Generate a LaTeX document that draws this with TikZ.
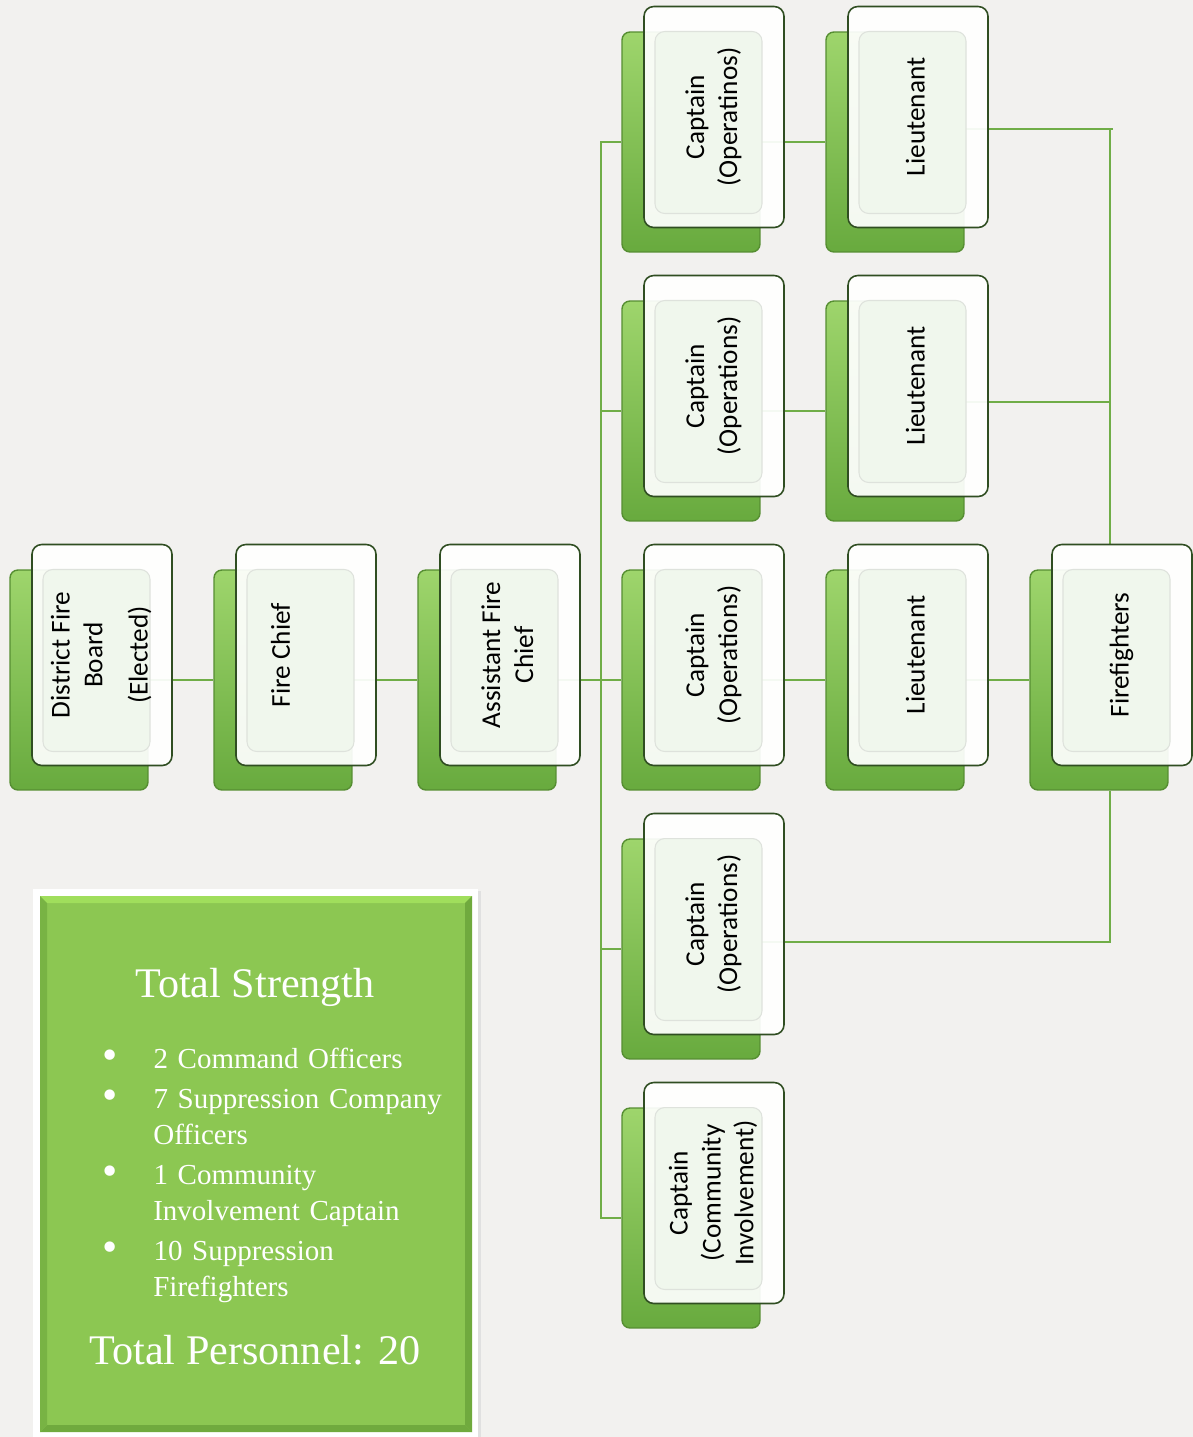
\documentclass[tikz,border=0pt]{standalone}
\usepackage{fontspec}
\usepackage{graphicx}
\usetikzlibrary{backgrounds,calc}
\newfontfamily\boxfont{Carlito}
\newfontfamily\legendfont{Liberation Serif}
\definecolor{paper}{RGB}{242,241,239}
\definecolor{linkgreen}{RGB}{112,173,71}
\definecolor{backtop}{RGB}{158,213,108}
\definecolor{backbot}{RGB}{104,170,62}
\definecolor{backedge}{RGB}{86,142,50}
\definecolor{frontedge}{RGB}{48,78,34}
\definecolor{panel}{RGB}{240,247,237}
\definecolor{panelrim}{RGB}{222,226,220}
\definecolor{legendgreen}{RGB}{140,199,82}
\definecolor{legendlight}{RGB}{160,222,92}
\definecolor{legenddark}{RGB}{112,170,62}
\newcommand{\vlabel}[1]{\rotatebox{90}{\begin{tabular}{@{}c@{}}#1\end{tabular}}}
\newcommand{\bigdot}{\raisebox{-0.5pt}{\scalebox{1.5}{\textbullet}}}

\begin{document}
\begin{tikzpicture}[x=0.02cm, y=-0.02cm,
	back/.style={rounded corners=4.5pt, minimum width=2.76cm, minimum height=4.4cm, inner sep=0pt, draw=backedge, line width=0.8pt, top color=backtop, bottom color=backbot},
	front/.style={rounded corners=5.5pt, minimum width=2.8cm, minimum height=4.42cm, inner sep=0pt, draw=frontedge, line width=0.9pt, fill=white, fill opacity=0.93, text opacity=1, font=\boxfont\fontsize{15.5}{18.7}\selectfont,
		path picture={\filldraw[panel, draw=panelrim, line width=0.6pt, fill opacity=0.9] ($(path picture bounding box.south west)+(0.22cm,0.28cm)$) rectangle ($(path picture bounding box.north east)+(-0.44cm,-0.5cm)$);}},
	link/.style={draw=linkgreen, line width=1.2pt},
	legendtitle/.style={text=white, font=\legendfont\fontsize{24}{28}\selectfont},
	legendlist/.style={text=white, font=\legendfont\fontsize{16.5}{20.5}\selectfont, text width=7cm, inner sep=0pt, align=left}]
	\useasboundingbox (0,0) rectangle (1193,1437);
	\node (board) at (79,680) [back] {};
		\node (board-f) at (102,655) [front] {\vlabel{District Fire\\Board\\[7pt](Elected)}};
	\node (chief) at (283,680) [back] {};
		\node (chief-f) at (306,655) [front] {\vlabel{Fire Chief\\[7pt]~}};
	\node (asst) at (487,680) [back] {};
		\node (asst-f) at (510,655) [front] {\vlabel{Assistant Fire\\Chief}};
	\node (cap1) at (691,142) [back] {};
		\node (cap1-f) at (714,117) [front] {\vlabel{Captain\\(Operatinos)}};
	\node (cap2) at (691,411) [back] {};
		\node (cap2-f) at (714,386) [front] {\vlabel{Captain\\(Operations)}};
	\node (cap3) at (691,680) [back] {};
		\node (cap3-f) at (714,655) [front] {\vlabel{Captain\\(Operations)}};
	\node (cap4) at (691,949) [back] {};
		\node (cap4-f) at (714,924) [front] {\vlabel{Captain\\(Operations)}};
	\node (cap5) at (691,1218) [back] {};
		\node (cap5-f) at (714,1193) [front] {\vlabel{Captain\\(Community\\Involvement)}};
	\node (lt1) at (895,142) [back] {};
		\node (lt1-f) at (918,117) [front] {\vlabel{Lieutenant}};
	\node (lt2) at (895,411) [back] {};
		\node (lt2-f) at (918,386) [front] {\vlabel{Lieutenant}};
	\node (lt3) at (895,680) [back] {};
		\node (lt3-f) at (918,655) [front] {\vlabel{Lieutenant}};
	\node (ff) at (1099,680) [back] {};
		\node (ff-f) at (1122,655) [front] {\vlabel{Firefighters}};
	\coordinate (trunk) at (601,680);
	\coordinate (bus) at (1110,129);
	\begin{pgfonlayer}{background}
		\fill[paper] (0,0) rectangle (1193,1437);
		\draw[link] (board) -- (chief);
		\draw[link] (chief) -- (asst);
		\draw[link] (asst) -- (cap3);
		\draw[link] (cap1) -| (trunk) |- (cap5);
		\draw[link] (cap2) -- (cap2 -| trunk);
		\draw[link] (cap4) -- (cap4 -| trunk);
		\draw[link] (cap1) -- (lt1);
		\draw[link] (cap2) -- (lt2);
		\draw[link] (cap3) -- (lt3);
		\draw[link] (lt3) -- (ff);
		\draw[link] (lt1 |- bus) -- ($(bus)+(3,0)$);
		\draw[link] (bus) -- (bus |- ff-f.north);
		\draw[link] (lt2 |- 0,402) -- (bus |- 0,402);
		\draw[link] (bus |- ff.south) -- (bus |- 0,942) -- (cap4 |- 0,942);
	\end{pgfonlayer}
	\fill[black!12] (35,891) rectangle (481,1440);
	\fill[white] (33,889) rectangle (478,1440);
	\fill[legendgreen] (40,896) rectangle (472,1432);
	\fill[legendlight] (40,896) -- (472,896) -- (465,903) -- (47,903) -- cycle;
	\fill[legenddark] (472,896) -- (472,1432) -- (465,1425) -- (465,903) -- cycle;
	\fill[legenddark] (40,1432) -- (472,1432) -- (465,1425) -- (47,1425) -- cycle;
	\fill[legenddark!70!legendgreen] (40,896) -- (47,903) -- (47,1425) -- (40,1432) -- cycle;
	\node (strength) at (255,987) [legendtitle] {Total Strength};
	\node (counts) at (100,1032) [legendlist, anchor=north west] {%
		\begin{list}{\bigdot}{\setlength\leftmargin{1.06cm}\setlength\labelwidth{0.3cm}\setlength\labelsep{0.72cm}%
			\setlength\itemsep{2.3pt}\setlength\parsep{0pt}\setlength\topsep{0pt}\setlength\partopsep{0pt}}
		\item 2 Command Officers
		\item 7 Suppression Company\\Officers
		\item 1 Community\\Involvement Captain
		\item 10 Suppression\\Firefighters
		\end{list}};
	\node (personnel) at (255,1350) [legendtitle] {Total Personnel: 20};
\end{tikzpicture}
\end{document}
